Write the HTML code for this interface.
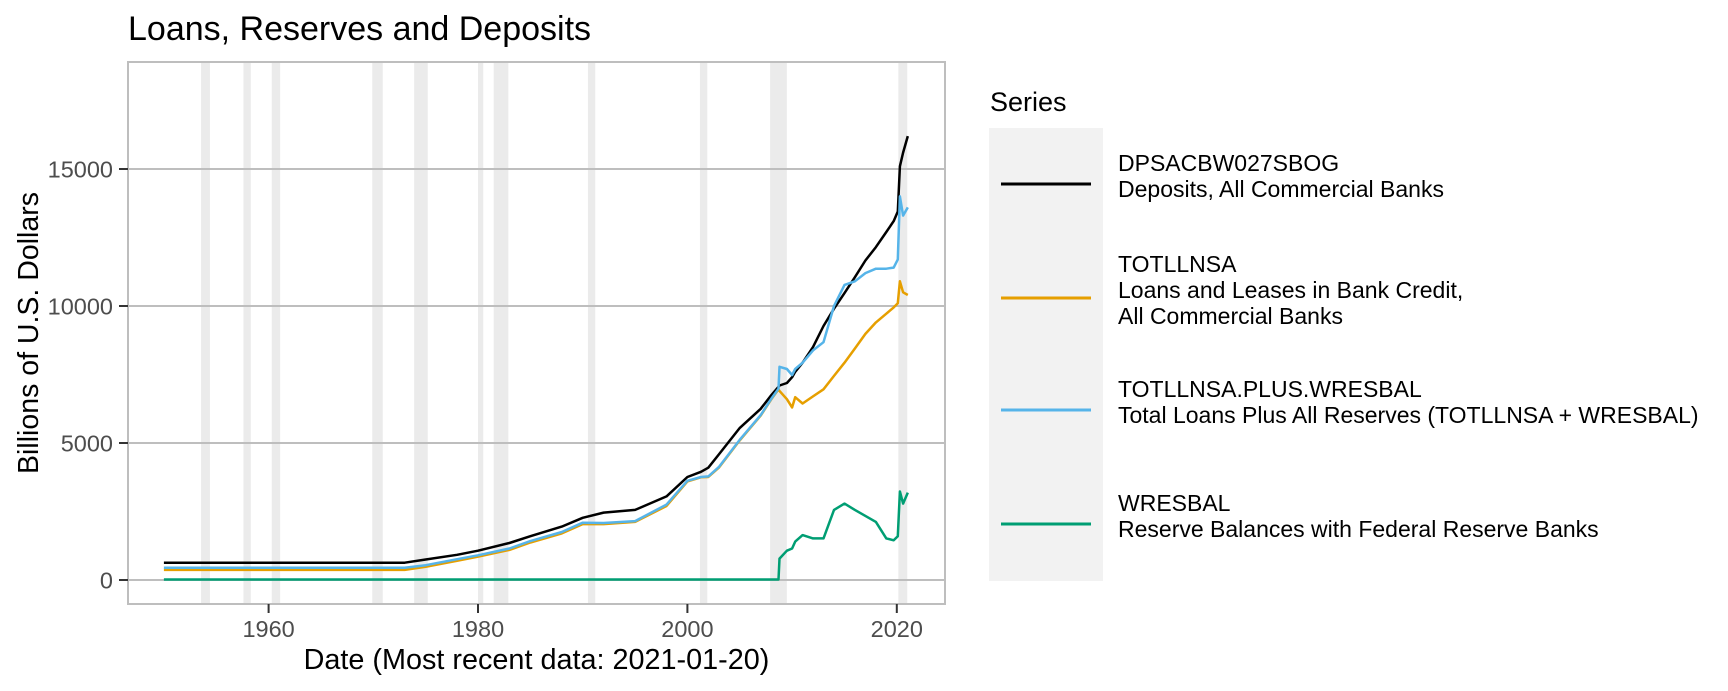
<!DOCTYPE html>
<html><head><meta charset="utf-8"><style>
html,body{margin:0;padding:0;background:#fff;}
svg{display:block;font-family:"Liberation Sans",Arial,sans-serif;}
</style></head><body>
<svg id="chart" width="1728" height="691" viewBox="0 0 1728 691">
<text x="128" y="40" font-size="34" fill="#000">Loans, Reserves and Deposits</text>
<g id="bands"></g>
<g id="grid"></g>
<g id="series"></g>
<rect x="128" y="62" width="817" height="542" fill="none" stroke="#BEBEBE" stroke-width="2"/>
<g id="axes"></g>
<text x="536.5" y="669" font-size="28.8" text-anchor="middle" fill="#000">Date (Most recent data: 2021-01-20)</text>
<text transform="translate(38,333) rotate(-90)" font-size="28.5" text-anchor="middle" fill="#000">Billions of U.S. Dollars</text>
<text x="990" y="111" font-size="27" fill="#000">Series</text>
<rect x="989" y="128" width="114" height="453" fill="#F2F2F2"/>
<g id="legend"></g>
</svg>
<script>
const years = [1950,1973,1975,1978,1980,1983,1985,1988,1990,1992,1995,1998,2000,2001.3,2002,2003,2005,2007,2008,2008.7,2008.8,2009.5,2010,2010.3,2011,2012,2013,2014,2015,2016,2017,2018,2019,2019.7,2020.1,2020.3,2020.6,2021.05];
const deposits = [630,630,750,920,1070,1350,1600,1950,2270,2460,2560,3050,3760,3950,4100,4580,5550,6250,6740,7050,7100,7190,7400,7600,7930,8500,9270,9900,10470,11050,11660,12150,12700,13100,13450,15100,15600,16200];
const loans = [370,370,480,700,850,1100,1370,1700,2040,2040,2120,2700,3600,3750,3760,4100,5100,6000,6590,6960,6900,6600,6300,6670,6440,6700,6960,7450,7930,8450,8980,9400,9720,9950,10100,10900,10500,10400];
const loansPlusReserves = [450,450,540,760,900,1150,1420,1750,2090,2080,2150,2750,3620,3760,3780,4120,5120,6020,6610,6980,7780,7700,7480,7700,7930,8380,8680,10000,10770,10900,11200,11360,11360,11400,11700,14000,13300,13600];
const reserves = [20,20,20,20,20,20,20,20,20,20,20,20,20,20,20,20,20,20,20,20,780,1070,1150,1400,1640,1520,1520,2560,2790,2560,2340,2120,1520,1450,1600,3230,2790,3190];
const recessionStarts = [1953.55,1957.6,1960.3,1969.9,1973.9,1980.0,1981.5,1990.5,2001.2,2007.9,2020.15];
const recessionEnds = [1954.4,1958.3,1961.1,1970.9,1975.2,1980.5,1982.9,1991.2,2001.9,2009.5,2021.0];
const yTicks = [0,5000,10000,15000];
const xTicks = [1960,1980,2000,2020];
const seriesNames = ["DPSACBW027SBOG","TOTLLNSA","TOTLLNSA.PLUS.WRESBAL","WRESBAL"];
const seriesDescs = [["Deposits, All Commercial Banks"],["Loans and Leases in Bank Credit,","All Commercial Banks"],["Total Loans Plus All Reserves (TOTLLNSA + WRESBAL)"],["Reserve Balances with Federal Reserve Banks"]];

const NS="http://www.w3.org/2000/svg";
const X0=128,X1=945,Y0=62,Y1=604;
function xs(yr){return 268.6+(yr-1960)*10.47;}
function ys(v){return 580-v*0.0274;}
function mk(tag,attrs,parent){const e=document.createElementNS(NS,tag);for(const k in attrs)e.setAttribute(k,attrs[k]);parent.appendChild(e);return e;}

const bands=document.getElementById('bands');
recessionStarts.forEach((s,i)=>{
  const r=mk('rect',{x:xs(s),y:Y0,width:xs(recessionEnds[i])-xs(s),height:Y1-Y0,fill:'#EBEBEB'},bands);
  
  
});
const grid=document.getElementById('grid'),axes=document.getElementById('axes');
yTicks.forEach(t=>{
  const l=mk('line',{x1:X0,x2:X1,y1:ys(t),y2:ys(t),stroke:'#BEBEBE','stroke-width':2},grid);
  
  
  const tk=mk('line',{x1:119,x2:128,y1:ys(t),y2:ys(t),stroke:'#333','stroke-width':2},axes);
  
  
  const tx=mk('text',{x:113,y:ys(t)+8.5,'font-size':23.5,'text-anchor':'end',fill:'#4D4D4D'},axes);
  tx.textContent=t;
  
  
});
xTicks.forEach(t=>{
  const tk=mk('line',{x1:xs(t),x2:xs(t),y1:604,y2:613,stroke:'#333','stroke-width':2},axes);
  
  
  const tx=mk('text',{x:xs(t),y:637,'font-size':23.5,'text-anchor':'middle',fill:'#4D4D4D'},axes);
  tx.textContent=t;
  
  
});
const colors=['#000000','#E69F00','#56B4E9','#009E73'];
const data=[deposits,loans,loansPlusReserves,reserves];
const sg=document.getElementById('series');
const lineNames=['deposits-line','loans-line','loans-plus-reserves-line','reserves-line'];
data.forEach((arr,i)=>{
  const d=arr.map((v,j)=>(j?'L':'M')+xs(years[j]).toFixed(1)+','+ys(v).toFixed(1)).join('');
  const p=mk('path',{d:d,fill:'none',stroke:colors[i],'stroke-width':2.5,'stroke-linejoin':'round'},sg);
  
  
});
const lg=document.getElementById('legend');
const keyY=[184,298,410,524];
seriesNames.forEach((n,i)=>{
  const k=mk('line',{x1:1001,x2:1091,y1:keyY[i],y2:keyY[i],stroke:colors[i],'stroke-width':3},lg);
  
  
  const lines=[n].concat(seriesDescs[i]);
  const startY=keyY[i]+10-(lines.length*26)/2+3;
  lines.forEach((s,j)=>{
    const t=mk('text',{x:1118,y:startY+j*26,'font-size':23,fill:'#000'},lg);
    t.textContent=s;
    
    
  });
});
</script>
</body></html>
